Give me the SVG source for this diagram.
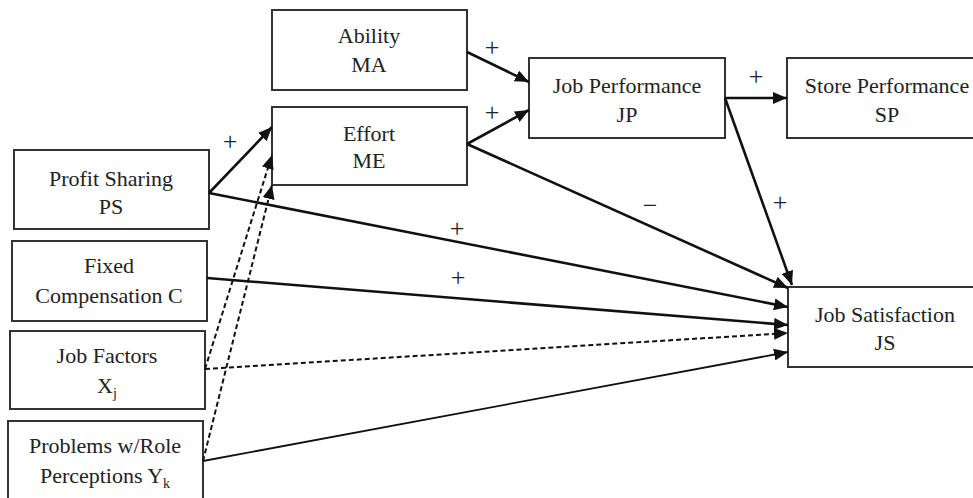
<svg xmlns="http://www.w3.org/2000/svg" width="973" height="498" viewBox="0 0 973 498">
<style>
.box{fill:#fff;stroke:#333;stroke-width:2}
.t{font-size:22px;fill:#222;text-anchor:middle}
.sub{font-size:14px}
.s{stroke:#111;stroke-width:2.6;fill:none}
.d{stroke:#111;stroke-width:2;fill:none;stroke-dasharray:5 3}
.lbl{font-size:26px;fill:#222;text-anchor:middle}
</style>
<defs>
<marker id="ah" markerUnits="userSpaceOnUse" markerWidth="16" markerHeight="12" refX="14" refY="6" orient="auto">
<path d="M0,0 L14,6 L0,12 Z" fill="#111"/>
</marker>
</defs>
<rect width="973" height="498" fill="#fff"/>
<g font-family="Liberation Serif, Tinos, Noto Serif, DejaVu Serif, Times New Roman, serif">
<g id="ability"><rect class="box" x="272" y="10" width="195" height="80"/><text class="t" x="369" y="43">Ability</text><text class="t" x="369" y="72">MA</text></g>
<g id="effort"><rect class="box" x="272" y="107" width="195" height="78"/><text class="t" x="369" y="141">Effort</text><text class="t" x="369" y="168">ME</text></g>
<g id="jp"><rect class="box" x="529" y="58" width="196" height="80"/><text class="t" x="627" y="93">Job Performance</text><text class="t" x="627" y="122">JP</text></g>
<g id="sp"><rect class="box" x="787" y="58" width="200" height="80"/><text class="t" x="887" y="93">Store Performance</text><text class="t" x="887" y="122">SP</text></g>
<g id="js"><rect class="box" x="788" y="287" width="200" height="80"/><text class="t" x="885" y="322">Job Satisfaction</text><text class="t" x="885" y="350">JS</text></g>
<g id="ps"><rect class="box" x="14" y="150" width="195" height="79"/><text class="t" x="111" y="186">Profit Sharing</text><text class="t" x="111" y="214">PS</text></g>
<g id="fc"><rect class="box" x="12" y="241" width="195" height="80"/><text class="t" x="109" y="273">Fixed</text><text class="t" x="109" y="303">Compensation C</text></g>
<g id="jf"><rect class="box" x="10" y="331" width="195" height="78"/><text class="t" x="107" y="363">Job Factors</text><text class="t" x="107" y="393">X<tspan class="sub" dy="5">j</tspan></text></g>
<g id="pr"><rect class="box" x="8" y="421" width="195" height="90"/><text class="t" x="105" y="453">Problems w/Role</text><text class="t" x="105" y="483">Perceptions Y<tspan class="sub" dy="5">k</tspan></text></g>
<g id="connectors">
<line class="s" x1="467" y1="52" x2="529" y2="82" marker-end="url(#ah)"/>
<line class="s" x1="467" y1="144" x2="529" y2="110" marker-end="url(#ah)"/>
<line class="s" x1="467" y1="144" x2="788" y2="288" marker-end="url(#ah)"/>
<line class="s" x1="209" y1="193" x2="272" y2="127" marker-end="url(#ah)"/>
<line class="s" x1="209" y1="193" x2="788" y2="307" marker-end="url(#ah)"/>
<line class="s" x1="725" y1="98" x2="787" y2="98" marker-end="url(#ah)"/>
<line class="s" x1="725" y1="98" x2="792" y2="285" marker-end="url(#ah)"/>
<line class="s" x1="207" y1="278" x2="788" y2="325" marker-end="url(#ah)"/>
<line class="d" x1="205" y1="369" x2="788" y2="333" marker-end="url(#ah)"/>
<line class="d" x1="205" y1="369" x2="272" y2="155" marker-end="url(#ah)"/>
<line class="d" x1="203" y1="461" x2="272" y2="185" marker-end="url(#ah)"/>
<line class="s" style="stroke-width:1.8" x1="203" y1="461" x2="788" y2="352" marker-end="url(#ah)"/>
<text class="lbl" x="230" y="150">+</text>
<text class="lbl" x="492" y="56">+</text>
<text class="lbl" x="492" y="121">+</text>
<text class="lbl" x="756" y="85">+</text>
<text class="lbl" x="650" y="214">−</text>
<text class="lbl" x="780" y="211">+</text>
<text class="lbl" x="457" y="237">+</text>
<text class="lbl" x="458" y="286">+</text>
</g>
</g>
</svg>
